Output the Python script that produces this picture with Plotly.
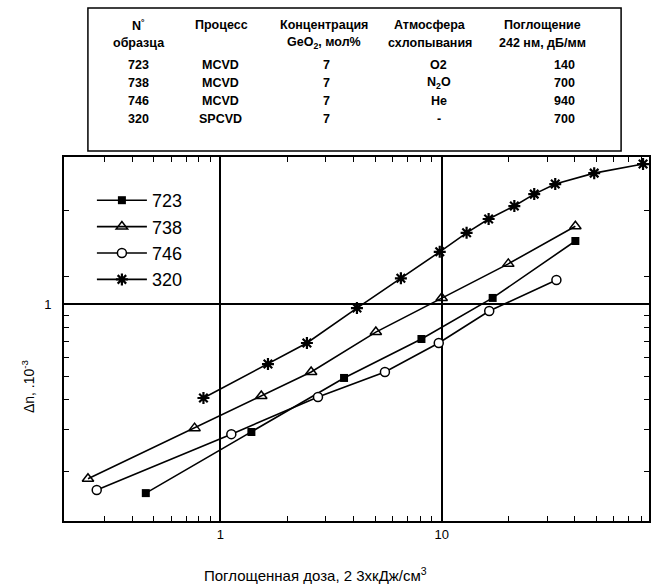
import plotly.graph_objects as go

# ---------------- data ----------------
x_723 = [0.46, 1.38, 3.62, 8.1, 17.0, 40.2]
y_723 = [0.163, 0.293, 0.492, 0.715, 1.06, 1.83]

x_738 = [0.252, 0.764, 1.53, 2.57, 5.04, 10.0, 20.0, 40.2]
y_738 = [0.187, 0.304, 0.414, 0.521, 0.764, 1.06, 1.47, 2.11]

x_746 = [0.276, 1.12, 2.76, 5.54, 9.7, 16.4, 33.0]
y_746 = [0.168, 0.287, 0.41, 0.521, 0.688, 0.935, 1.26]

x_320 = [0.838, 1.64, 2.46, 4.14, 6.54, 9.8, 12.96, 16.3, 21.3, 26.2, 32.6, 48.9, 81.3]
y_320 = [0.406, 0.562, 0.688, 0.962, 1.28, 1.65, 1.98, 2.26, 2.56, 2.87, 3.16, 3.51, 3.83]

x_major = [1, 10]
x_major_text = ["1", "10"]
x_minor = [0.3, 0.4, 0.5, 0.6, 0.7, 0.8, 0.9, 2, 3, 4, 5, 6, 7, 8, 9,
           20, 30, 40, 50, 60, 70, 80]
y_major = [1]
y_major_text = ["1"]
y_minor = [0.2, 0.3, 0.4, 0.5, 0.6, 0.7, 0.8, 0.9, 1.3, 2.45]

# table
tbl_header1 = ["N<sup>°</sup>", "Процесс", "Концентрация", "Атмосфера", "Поглощение"]
tbl_header2 = ["образца", "", "GeO<sub>2</sub>, мол%", "схлопывания", "242 нм, дБ/мм"]
tbl_ids = ["723", "738", "746", "320"]
tbl_process = ["MCVD", "MCVD", "MCVD", "SPCVD"]
tbl_conc = ["7", "7", "7", "7"]
tbl_atm = ["O2", "N<sub>2</sub>O", "He", "-"]
tbl_abs = ["140", "700", "940", "700"]

x_title = "Поглощенная доза, 2 3хкДж/см<sup>3</sup>"
y_title = "Δn, .10<sup>-3</sup>"

# ---------------- layout geometry (pixels) ----------------
W, H = 653, 588
L, R, T, B = 64, 651, 157, 521


def px_x(p):
    return (p - L) / (R - L)


def px_y(p):
    return (B - p) / (B - T)


FONT = "Liberation Sans, Arial, sans-serif"
line_style = dict(color="black", width=1.6)

fig = go.Figure()
fig.add_trace(go.Scatter(x=x_723, y=y_723, name="723", mode="lines+markers",
                         line=line_style,
                         marker=dict(symbol="square", size=8, color="black")))
fig.add_trace(go.Scatter(x=x_738, y=y_738, name="738", mode="lines+markers",
                         line=line_style,
                         marker=dict(symbol="triangle-up-open", size=10, color="black",
                                     line=dict(width=1.5, color="black"))))
fig.add_trace(go.Scatter(x=x_746, y=y_746, name="746", mode="lines+markers",
                         line=line_style,
                         marker=dict(symbol="circle", size=9, color="white",
                                     line=dict(width=1.5, color="black"))))
fig.add_trace(go.Scatter(x=x_320, y=y_320, name="320", mode="lines+markers",
                         line=line_style,
                         marker=dict(symbol="asterisk-open", size=10, color="black",
                                     line=dict(width=2.2, color="black"))))

fig.update_xaxes(type="log", range=[-0.707, 1.937],
                 tickvals=x_major, ticktext=x_major_text,
                 ticks="inside", ticklen=6, tickwidth=1.5, tickcolor="black",
                 showgrid=True, gridcolor="black", gridwidth=1.5,
                 showline=True, linecolor="black", linewidth=2, mirror="ticks",
                 zeroline=False,
                 tickfont=dict(family=FONT, size=13, color="black"),
                 minor=dict(tickvals=x_minor, ticks="inside", ticklen=5,
                            tickwidth=1.2, tickcolor="black", showgrid=False))
fig.update_yaxes(type="log", range=[-0.904, 0.6125],
                 tickvals=y_major, ticktext=y_major_text,
                 ticks="inside", ticklen=6, tickwidth=1.5, tickcolor="black",
                 showgrid=True, gridcolor="black", gridwidth=1.5,
                 showline=True, linecolor="black", linewidth=2, mirror="ticks",
                 zeroline=False, ticklabelstandoff=8,
                 tickfont=dict(family=FONT, size=13, color="black"),
                 minor=dict(tickvals=y_minor, ticks="inside", ticklen=5,
                            tickwidth=1.2, tickcolor="black", showgrid=False))


def ann(text, px, py, font, **kw):
    d = dict(text=text, x=px_x(px), y=px_y(py), xref="paper", yref="paper",
             xanchor="center", yanchor="middle", showarrow=False, font=font)
    d.update(kw)
    return d


annotations = []
annotations.append(ann(x_title, 316, 574, dict(family=FONT, size=15, color="black")))
annotations.append(ann(y_title, 28, 386, dict(family=FONT, size=14, color="black"),
                       textangle=-90))

head_cx = [139, 222, 325, 431, 544]
val_cx = [139, 221, 327, 440, 566]
tfont = dict(family=FONT, size=12.5, color="black")
for cx, t in zip(head_cx, tbl_header1):
    annotations.append(ann("<b>%s</b>" % t, cx, 25, tfont))
for cx, t in zip(head_cx, tbl_header2):
    if t:
        annotations.append(ann("<b>%s</b>" % t, cx, 43, tfont))
row_y = [65, 83, 101, 119]
for i, ry in enumerate(row_y):
    vals = [tbl_ids[i], tbl_process[i], tbl_conc[i], tbl_atm[i], tbl_abs[i]]
    for cx, t in zip(val_cx, vals):
        annotations.append(ann("<b>%s</b>" % t, cx, ry, tfont))

shapes = [dict(type="rect", xref="paper", yref="paper",
               x0=px_x(88), x1=px_x(623), y0=px_y(151), y1=px_y(8),
               line=dict(color="black", width=1.5), fillcolor="rgba(0,0,0,0)")]

fig.update_layout(
    width=W, height=H,
    margin=dict(l=L, r=W - R, t=T, b=H - B),
    paper_bgcolor="white", plot_bgcolor="white",
    showlegend=True,
    legend=dict(x=px_x(92), y=px_y(182), xanchor="left", yanchor="top",
                bgcolor="rgba(0,0,0,0)", borderwidth=0,
                font=dict(family=FONT, size=18, color="black"),
                itemwidth=50, tracegroupgap=0),
    annotations=annotations,
    shapes=shapes,
)

fig.write_html("out.html",
               config={"displayModeBar": False},
               post_script="document.body.style.margin='0px';"
                           "document.body.style.overflow='hidden';")
